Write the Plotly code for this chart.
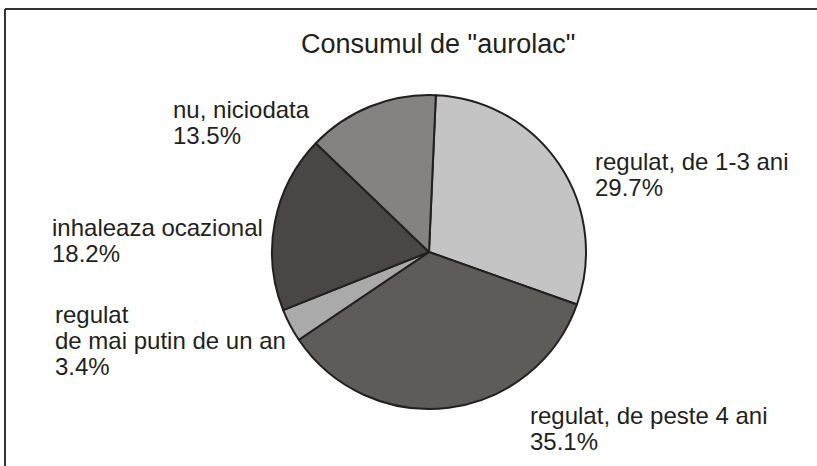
import plotly.graph_objects as go

labels = ["regulat, de 1-3 ani", "regulat, de peste 4 ani", "regulat<br>de mai putin de un an",
          "inhaleaza ocazional", "nu, niciodata"]
values = [29.7, 35.1, 3.4, 18.2, 13.5]
colors = ["#c4c4c4", "#5f5b59", "#aaaaaa", "#4a4646", "#848382"]

# label placement in pixels: left edge, baseline of first line
label_pos = [(593, 169), (528, 423), (53, 322), (50, 235), (171, 117)]
LINE = 26
FS = 24

W, H = 817, 466
fig = go.Figure(go.Pie(
    labels=labels, values=values, sort=False, direction="clockwise", rotation=2.5,
    marker=dict(colors=colors, line=dict(color="#231f20", width=2)),
    textinfo="none", hoverinfo="label+percent", showlegend=False,
    domain=dict(x=[272 / W, 586 / W], y=[1 - 409 / H, 1 - 95 / H]),
))

total = sum(values)
font = dict(family="Liberation Sans, Arial", size=FS, color="#231f20")
for lab, v, (lx, by) in zip(labels, values, label_pos):
    lines = lab.split("<br>") + [f"{v / total * 100:.1f}%"]
    for i, ln in enumerate(lines):
        cy = by + i * LINE - 0.3 * FS
        fig.add_annotation(x=lx / W, y=1 - cy / H, xref="paper", yref="paper",
                           xanchor="left", yanchor="middle", showarrow=False,
                           text=ln, font=font)

fig.add_annotation(x=438 / W, y=1 - 44 / H, xref="paper", yref="paper", showarrow=False,
                   xanchor="center", yanchor="middle", text='Consumul de "aurolac"',
                   font=dict(family="Liberation Sans, Arial", size=27, color="#231f20"))

# chart frame: only the top and left edges fall inside the picture
fig.add_shape(type="line", xref="paper", yref="paper", x0=5 / W, x1=1, y0=1 - 9 / H, y1=1 - 9 / H,
              line=dict(color="#333333", width=2))
fig.add_shape(type="line", xref="paper", yref="paper", x0=5 / W, x1=5 / W, y0=0, y1=1 - 9 / H,
              line=dict(color="#333333", width=2))

fig.update_layout(width=W, height=H, margin=dict(l=0, r=0, t=0, b=0),
                  paper_bgcolor="white", plot_bgcolor="white")
fig.write_html("out.html", config={"displayModeBar": False},
               post_script="document.body.style.margin='0';")
